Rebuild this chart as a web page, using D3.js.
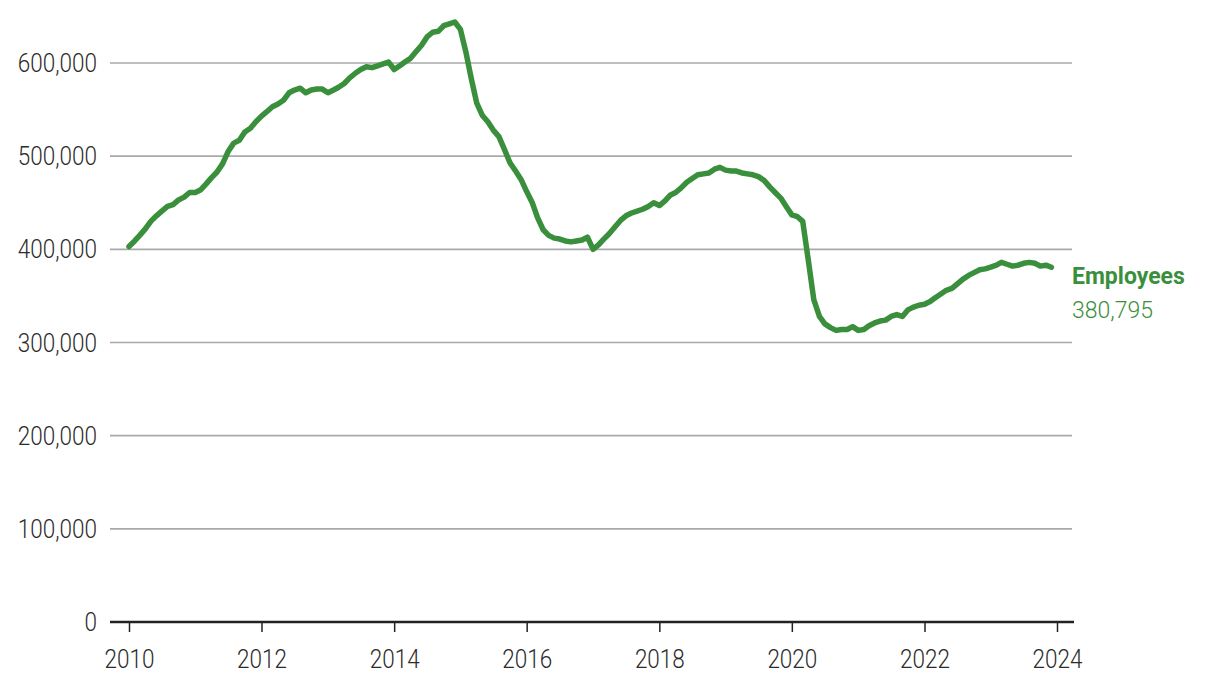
<!DOCTYPE html>
<html><head><meta charset="utf-8">
<script src="https://cdn.jsdelivr.net/npm/d3@7"></script>
<style>
html,body{margin:0;padding:0;background:#fff;}
svg text{font-family:"Roboto","DejaVu Sans Condensed",sans-serif;}
</style></head>
<body>
<svg id="chart" width="1220" height="694"></svg>
<script>
const startYear = 2010, startMonth = 0;
const employees = [
403000,409000,415000,422000,430000,436000,441000,446000,448000,453000,456000,461000,
461000,464000,470000,477000,483000,492000,505000,514000,517000,526000,530000,537000,
543000,548000,553000,556000,560000,568000,571000,573000,568000,571000,572000,572000,
568000,571000,574000,578000,584000,589000,593000,596000,595000,597000,599000,601000,
593000,597000,601000,605000,612000,619000,628000,633000,634000,640000,642000,644000,
636000,611000,584000,557000,544000,537000,528000,521000,507000,493000,484000,475000,
462000,450000,434000,421000,415000,412000,411000,409000,408000,409000,410000,413000,
400000,405000,411000,417000,424000,431000,436000,439000,441000,443000,446000,450000,
447000,452000,458000,461000,466000,472000,476000,480000,481000,482000,486000,488000,
485000,484000,484000,482000,481000,480000,478000,474000,467000,461000,455000,446000,
437000,435000,430000,388000,346000,328000,320000,316000,313000,314000,314000,317000,
313000,314000,318000,321000,323000,324000,328000,330000,328000,335000,338000,340000,
341000,344000,348000,352000,356000,358000,363000,368000,372000,375000,378000,379000,
381000,383000,386000,384000,382000,383000,385000,386000,385000,382000,383000,380795
];
const yTicks = [0,100000,200000,300000,400000,500000,600000];
const xTickYears = [2010,2012,2014,2016,2018,2020,2022,2024];
const seriesName = "Employees";

const data = employees.map((v,i)=>({date:new Date(startYear, startMonth+i, 1), value:v}));

const svg = d3.select("#chart");
const x = d3.scaleTime().domain([new Date(2010,0,1), new Date(2024,0,1)]).range([129,1057]);
const y = d3.scaleLinear().domain([0,600000]).range([622,63]);
const green = "#3a8f3c";
const fmt = d3.format(",");
const SX = 0.9;

// gridlines
svg.append("g").selectAll("line").data(yTicks.filter(d=>d>0)).join("line")
  .attr("x1",110).attr("x2",1072).attr("y1",d=>y(d)).attr("y2",d=>y(d))
  .attr("stroke","#a9a9ad").attr("stroke-width",1.6);

// y labels
svg.append("g").selectAll("text").data(yTicks).join("text")
  .attr("transform",d=>`translate(97,${y(d)}) scale(${SX},1)`)
  .attr("dy","0.36em").attr("text-anchor","end")
  .attr("font-size",25).attr("font-weight",300).attr("fill","#2b2b2b")
  .text(d=>fmt(d));

// x axis
const xAxis = d3.axisBottom(x).tickValues(xTickYears.map(yr=>new Date(yr,0,1)))
  .tickFormat(d3.timeFormat("%Y")).tickSize(10).tickPadding(18);
const gx = svg.append("g").attr("transform","translate(0,622)").call(xAxis);
gx.select(".domain").remove();
gx.selectAll(".tick line").attr("stroke","#222").attr("stroke-width",1.5);
gx.selectAll(".tick text").attr("font-size",25).attr("font-weight",300).attr("fill","#2b2b2b")
  .attr("font-family",'"Roboto","DejaVu Sans Condensed",sans-serif')
  .attr("transform",`scale(${SX},1)`);
svg.append("line").attr("x1",110).attr("x2",1074).attr("y1",622).attr("y2",622)
  .attr("stroke","#222").attr("stroke-width",2.6);

// line
const line = d3.line().x(d=>x(d.date)).y(d=>y(d.value));
svg.append("path").datum(data).attr("d",line).attr("fill","none")
  .attr("stroke",green).attr("stroke-width",5.5).attr("stroke-linejoin","round").attr("stroke-linecap","round");

// label
const last = data[data.length-1];
svg.append("text").attr("transform",`translate(1072,${y(last.value)+8})`).attr("dy","0.36em")
  .attr("font-size",23).attr("font-weight","bold").attr("fill",green).text(seriesName);
svg.append("text").attr("transform",`translate(1072,${y(last.value)+42.5})`).attr("dy","0.36em")
  .attr("font-size",23).attr("font-weight",300).attr("fill",green).text(fmt(last.value));
</script>
</body></html>
